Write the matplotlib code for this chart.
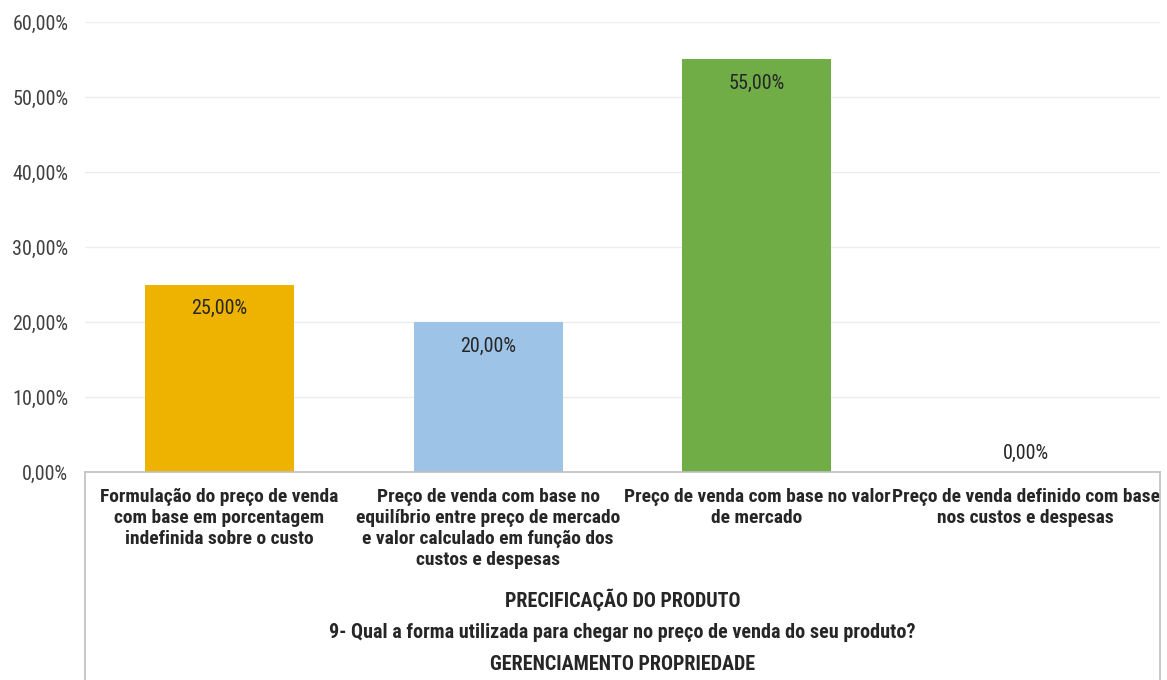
import matplotlib
matplotlib.use("Agg")
import matplotlib.pyplot as plt
from matplotlib.lines import Line2D

categories = [
    "Formulação do preço de venda\ncom base em porcentagem\nindefinida sobre o custo",
    "Preço de venda com base no\nequilíbrio entre preço de mercado\ne valor calculado em função dos\ncustos e despesas",
    "Preço de venda com base no valor\nde mercado",
    "Preço de venda definido com base\nnos custos e despesas",
]
values = [0.25, 0.20, 0.55, 0.0]
value_labels = ["25,00%", "20,00%", "55,00%", "0,00%"]
bar_colors = ["#EDB300", "#9DC3E6", "#70AD47", "#A5A5A5"]
yticks = [0.0, 0.1, 0.2, 0.3, 0.4, 0.5, 0.6]
ytick_labels = ["0,00%", "10,00%", "20,00%", "30,00%", "40,00%", "50,00%", "60,00%"]
group_lines = [
    "PRECIFICAÇÃO DO PRODUTO",
    "9- Qual a forma utilizada para chegar no preço de venda do seu produto?",
    "GERENCIAMENTO PROPRIEDADE",
]

FONT = ["Roboto Condensed", "PT Sans Narrow", "DejaVu Sans"]
plt.rcParams["font.family"] = FONT

W, H = 1167, 680
fig = plt.figure(figsize=(W / 100, H / 100), dpi=100)
left, right, bottom, top = 85 / W, 1160 / W, 1 - 472 / H, 1 - 22 / H
ax = fig.add_axes([left, bottom, right - left, top - bottom])

x = list(range(len(categories)))
ax.bar(x, values, width=0.555, color=bar_colors, zorder=2)
ax.set_xlim(-0.5, len(categories) - 0.5)
ax.set_ylim(0, 0.6)
ax.set_yticks(yticks)
ax.set_yticklabels(ytick_labels, fontsize=14.5, color="#404040")
ax.tick_params(axis="y", length=0, pad=12)
ax.set_xticks([])
for y in yticks[1:]:
    ax.axhline(y, color="#EDEDED", lw=1, zorder=1)
for s in ["top", "left", "right"]:
    ax.spines[s].set_visible(False)
ax.spines["bottom"].set_color("#BFBFBF")
ax.spines["bottom"].set_linewidth(1.2)

for xi, v, lab in zip(x, values, value_labels):
    off = -24 if v > 0 else 19
    ax.annotate(lab, (xi, v), xytext=(0, off), textcoords="offset pixels",
                ha="center", va="center", fontsize=14.5, color="#262626", zorder=3)

# category labels
for xi, cat in zip(x, categories):
    ax.annotate(cat, (xi, 0), xycoords=("data", "axes fraction"),
                xytext=(0, -16), textcoords="offset pixels",
                ha="center", va="top", fontsize=14, fontweight="bold",
                color="#262626", linespacing=1.21, annotation_clip=False)

# box lines below axis
for xf in (left, right):
    fig.add_artist(Line2D([xf, xf], [0, bottom], transform=fig.transFigure,
                          color="#BFBFBF", lw=1.2))

for yp, txt in zip([600, 632, 664], group_lines):
    fig.text((left + right) / 2, 1 - yp / H, txt, ha="center", va="center",
             fontsize=14.5, fontweight="bold", color="#262626")

fig.savefig("out.png", dpi=100, facecolor="white")
